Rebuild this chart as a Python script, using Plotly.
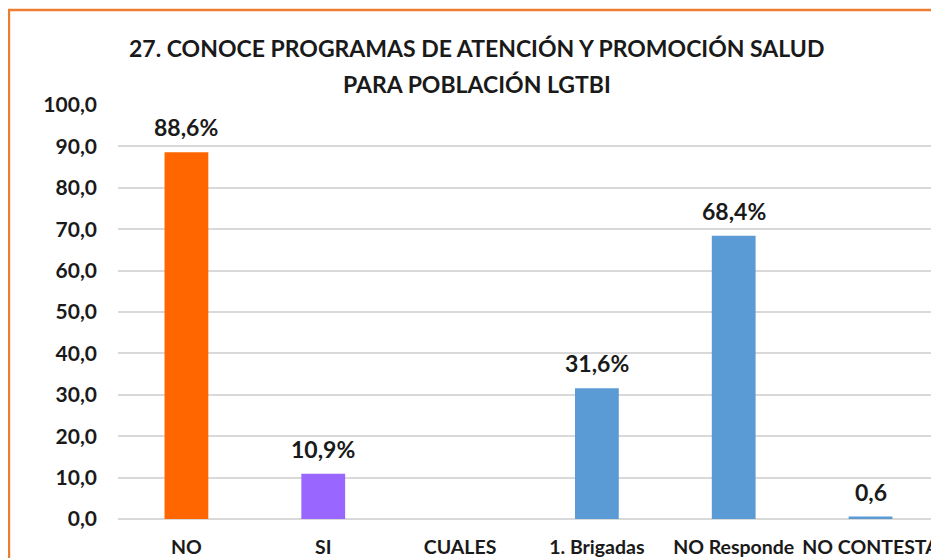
import plotly.graph_objects as go

categories = ["NO", "SI", "CUALES", "1. Brigadas", "NO Responde", "NO CONTESTA"]
values = [88.6, 10.9, 0.0, 31.6, 68.4, 0.6]
value_labels = ["88,6%", "10,9%", "", "31,6%", "68,4%", "0,6"]
bar_colors = ["#FF6600", "#9966FF", "#5B9BD5", "#5B9BD5", "#5B9BD5", "#5B9BD5"]
y_ticks = [0, 10, 20, 30, 40, 50, 60, 70, 80, 90, 100]
y_tick_labels = ["0,0", "10,0", "20,0", "30,0", "40,0", "50,0", "60,0", "70,0", "80,0", "90,0", "100,0"]
title_lines = ["27. CONOCE PROGRAMAS DE ATENCIÓN Y PROMOCIÓN SALUD", "PARA POBLACIÓN LGTBI"]

# the page body adds an 8px offset; size the figure so it fills the window
OFF = 8
W, H = 939 - OFF, 558 - OFF
ML = 118 - OFF
MT = 105 - OFF
MR = 0
MB = H - (519 - OFF)
PW = W - ML - MR
PH = H - MT - MB
cat_px = 138.0

FONT = "Lato"
TXT = "#1a1a1a"


def py(ypx):
    """paper y from a page-pixel y"""
    return (H - MB - (ypx - OFF)) / PH


def px(xpx):
    return ((xpx - OFF) - ML) / PW


fig = go.Figure()
fig.add_trace(go.Bar(
    x=categories, y=values,
    marker=dict(color=bar_colors, line=dict(width=0)),
    width=0.32,
    hoverinfo="skip",
))

annotations = []
for c, v, t in zip(categories, values, value_labels):
    if t:
        annotations.append(dict(
            x=c, y=v, xref="x", yref="y", text=t, showarrow=False,
            yanchor="middle", yshift=25,
            font=dict(family=FONT, size=23, color=TXT, weight="bold"),
        ))

for line, ypx in zip(title_lines, [48, 84]):
    annotations.append(dict(
        x=px(480), y=py(ypx), xref="paper", yref="paper",
        text=line, showarrow=False, xanchor="center", yanchor="middle",
        font=dict(family=FONT, size=23, color=TXT, weight="bold"),
    ))

fig.update_layout(
    width=W, height=H,
    margin=dict(l=ML, r=MR, t=MT, b=MB, pad=0),
    paper_bgcolor="white", plot_bgcolor="white",
    showlegend=False,
    annotations=annotations,
    shapes=[dict(
        type="rect", xref="paper", yref="paper",
        x0=px(8), x1=1.3,
        y0=-0.5, y1=py(10),
        line=dict(color="#ED7D31", width=2.5),
        fillcolor="rgba(0,0,0,0)", layer="above",
    )],
    xaxis=dict(
        type="category",
        range=[-0.5, -0.5 + PW / cat_px],
        showgrid=False, zeroline=False, showline=False,
        ticks="", ticklabelstandoff=14,
        tickfont=dict(family=FONT, size=19.5, color=TXT, weight="bold"),
        fixedrange=True,
    ),
    yaxis=dict(
        range=[0, 100],
        tickvals=y_ticks, ticktext=y_tick_labels,
        showgrid=True, gridcolor="#d9d9d9", gridwidth=2,
        zeroline=True, zerolinecolor="#d9d9d9", zerolinewidth=2,
        showline=False, ticks="", ticklabelstandoff=20,
        tickfont=dict(family=FONT, size=21, color=TXT, weight="bold"),
        fixedrange=True,
    ),
)

fig.write_html("out.html")
